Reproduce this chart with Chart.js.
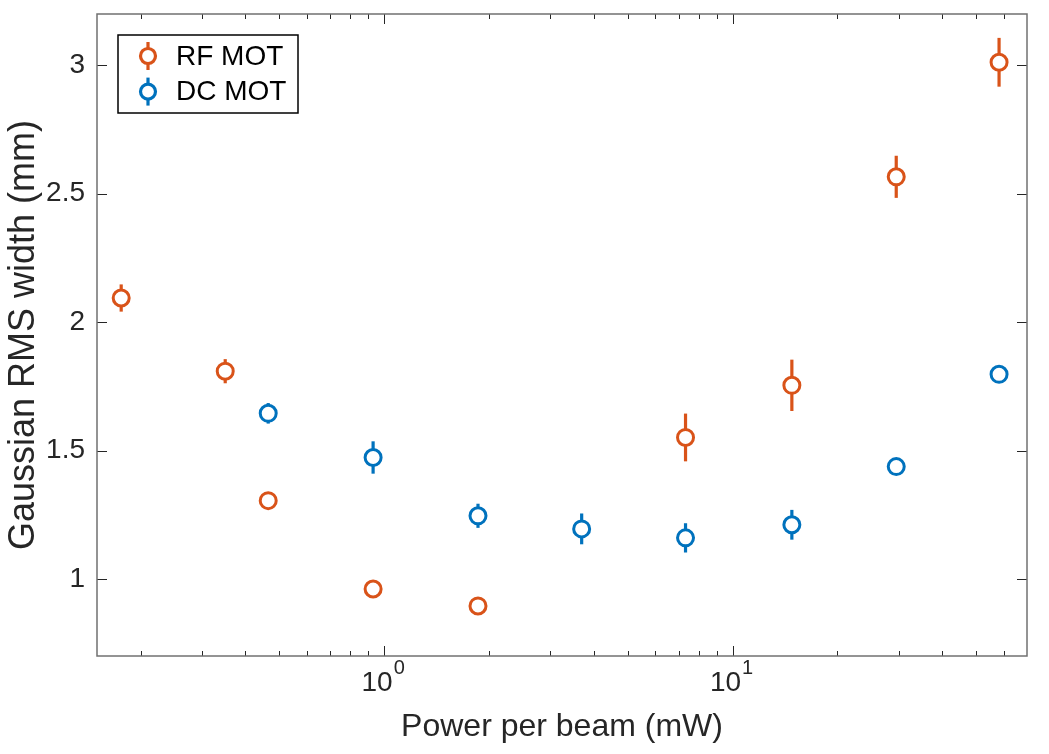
<!DOCTYPE html>
<html>
<head>
<meta charset="utf-8">
<script src="https://cdn.jsdelivr.net/npm/chart.js@4"></script>
<style>
  body{margin:0;background:#fff}
  #wrap{width:1049px;height:754px}
</style>
</head>
<body>
<div id="wrap"><canvas id="graficoMOT" width="1049" height="754"></canvas></div>
<script>
// datos
const rfPower=[0.176,0.35,0.465,0.93,1.86,7.33,14.8,29.5,58.2]
const rfWidth=[2.094,1.809,1.305,0.961,0.895,1.551,1.754,2.566,3.012]
const rfErr=[0.053,0.047,0.02,0.015,0.015,0.093,0.1,0.082,0.095]

const dcPower=[0.465,0.93,1.86,3.69,7.33,14.8,29.5,58.2]
const dcWidth=[1.645,1.473,1.246,1.195,1.16,1.211,1.4375,1.797]
const dcErr=[0.04,0.063,0.047,0.06,0.057,0.058,0.015,0.015]

const xMajorTicks=[1,10]
const xTickLabels=['10','10']
const xTickExponents=['0','1']
const xMinorTicks=[0.2,0.3,0.4,0.5,0.6,0.7,0.8,0.9,2,3,4,5,6,7,8,9,20,30,40,50,60]
const yTicks=[1,1.5,2,2.5,3]
const yTickLabels=['1','1.5','2','2.5','3']

const seriesNames=['RF MOT','DC MOT']
const colores=['#D95319','#0072BD']

const fuente='"Liberation Sans", Arial, Helvetica, sans-serif'
Chart.defaults.font.family=fuente
Chart.defaults.color='#262626'
const espacio='\u2002'

const barrasError={
    id:'barrasError',
    beforeDatasetsDraw(chart){
        const ctx=chart.ctx
        const x=chart.scales.x, y=chart.scales.y
        ctx.save()
        chart.data.datasets.forEach(ds=>{
            ctx.strokeStyle=ds.borderColor
            ctx.lineWidth=3.2
            ds.data.forEach((p,i)=>{
                const px=x.getPixelForValue(p.x)
                ctx.beginPath()
                ctx.moveTo(px,y.getPixelForValue(p.y-ds.errores[i]))
                ctx.lineTo(px,y.getPixelForValue(p.y+ds.errores[i]))
                ctx.stroke()
            })
        })
        ctx.restore()
    }
}

const marcoTicks={
    id:'marcoTicks',
    afterDraw(chart){
        const ctx=chart.ctx
        const a=chart.chartArea
        const x=chart.scales.x, y=chart.scales.y
        ctx.save()
        ctx.strokeStyle='#262626'
        ctx.lineWidth=1
        ctx.beginPath()
        x.ticks.forEach(t=>{
            const px=Math.round(x.getPixelForValue(t.value))+0.5
            const len=t.major?10:5
            ctx.moveTo(px,a.bottom); ctx.lineTo(px,a.bottom-len)
            ctx.moveTo(px,a.top); ctx.lineTo(px,a.top+len)
        })
        y.ticks.forEach(t=>{
            const py=Math.round(y.getPixelForValue(t.value))+0.5
            ctx.moveTo(a.left,py); ctx.lineTo(a.left+10,py)
            ctx.moveTo(a.right,py); ctx.lineTo(a.right-10,py)
        })
        ctx.stroke()
        ctx.strokeStyle='#707070'
        ctx.lineWidth=1.5
        ctx.strokeRect(a.left,a.top,a.right-a.left,a.bottom-a.top)

        // exponentes de las etiquetas 10^n
        ctx.fillStyle='#262626'
        ctx.textBaseline='alphabetic'
        ctx.textAlign='left'
        xMajorTicks.forEach((v,i)=>{
            const px=x.getPixelForValue(v)
            ctx.font='28px '+fuente
            const total=ctx.measureText(xTickLabels[i]+espacio).width
            const base=ctx.measureText(xTickLabels[i]).width
            ctx.font='20px '+fuente
            ctx.fillText(xTickExponents[i],px-total/2+base+1,a.bottom+18)
        })

        // leyenda
        const lx=a.left+21, ly=a.top+21, lw=180, lh=78
        ctx.fillStyle='#fff'
        ctx.fillRect(lx,ly,lw,lh)
        ctx.strokeStyle='#000'
        ctx.lineWidth=1.5
        ctx.strokeRect(lx,ly,lw,lh)
        ctx.font='28px '+fuente
        ctx.textBaseline='middle'
        seriesNames.forEach((n,i)=>{
            const cx=lx+30, cy=ly+21+i*35.6
            ctx.strokeStyle=colores[i]
            ctx.lineWidth=3.2
            ctx.beginPath()
            ctx.moveTo(cx,cy-14); ctx.lineTo(cx,cy+14)
            ctx.stroke()
            ctx.beginPath()
            ctx.arc(cx,cy,7.5,0,Math.PI*2)
            ctx.fillStyle='#fff'
            ctx.fill()
            ctx.stroke()
            ctx.fillStyle='#000'
            ctx.fillText(n,lx+58,cy+1)
        })
        ctx.restore()
    }
}

const armarDataset=(nombre,px,py,err,color)=>({
    label:nombre,
    data:px.map((v,i)=>({x:v,y:py[i]})),
    errores:err,
    borderColor:color,
    backgroundColor:'#fff',
    pointRadius:8,
    pointHoverRadius:8,
    pointBorderWidth:3,
    showLine:false
})

let ctx=document.getElementById('graficoMOT')
new Chart(ctx,{
    type:'scatter',
    data:{
        datasets:[
            armarDataset(seriesNames[0],rfPower,rfWidth,rfErr,colores[0]),
            armarDataset(seriesNames[1],dcPower,dcWidth,dcErr,colores[1])
        ]
    },
    options:{
        responsive:false,
        animation:false,
        layout:{padding:{top:14,right:22,left:0,bottom:0}},
        plugins:{legend:{display:false},tooltip:{enabled:false}},
        scales:{
            x:{
                type:'logarithmic',
                min:0.15,
                max:70,
                grid:{display:false,drawTicks:false},
                border:{display:false},
                afterBuildTicks:s=>{
                    s.ticks=xMajorTicks.map(v=>({value:v,major:true}))
                        .concat(xMinorTicks.map(v=>({value:v,major:false})))
                        .sort((a,b)=>a.value-b.value)
                },
                afterFit:s=>{s.height=98;s.paddingLeft=0;s.paddingRight=0},
                ticks:{
                    autoSkip:false,
                    maxRotation:0,
                    padding:10,
                    font:{size:28},
                    callback:v=>{
                        const i=xMajorTicks.indexOf(v)
                        return i>=0?xTickLabels[i]+espacio:''
                    }
                },
                title:{
                    display:true,
                    text:'Power per beam (mW)',
                    font:{size:32},
                    padding:{top:0,bottom:8}
                }
            },
            y:{
                min:0.7,
                max:3.2,
                grid:{display:false,drawTicks:false},
                border:{display:false},
                afterBuildTicks:s=>{
                    s.ticks=yTicks.map(v=>({value:v}))
                },
                afterFit:s=>{s.width=97;s.paddingTop=0;s.paddingBottom=0},
                ticks:{
                    padding:12,
                    font:{size:28},
                    callback:v=>{
                        const i=yTicks.indexOf(v)
                        return i>=0?yTickLabels[i]:''
                    }
                },
                title:{
                    display:true,
                    text:'Gaussian RMS width (mm)',
                    font:{size:36},
                    padding:{top:2,bottom:0}
                }
            }
        }
    },
    plugins:[barrasError,marcoTicks]
})
</script>
</body>
</html>
